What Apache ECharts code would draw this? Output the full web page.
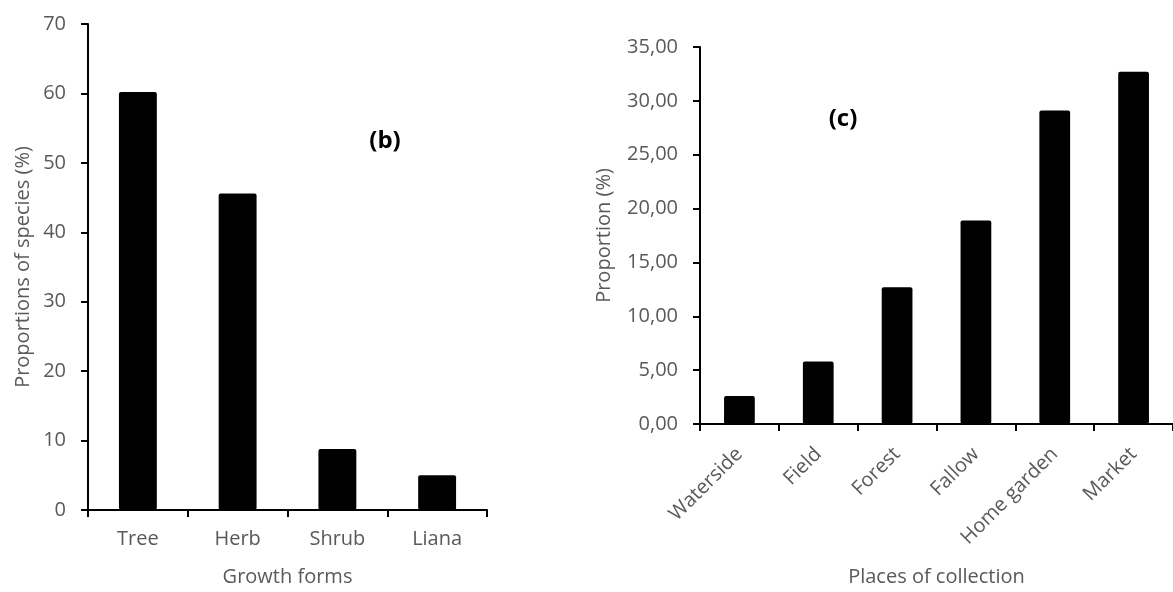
<!DOCTYPE html>
<html><head><meta charset="utf-8">
<script src="https://cdn.jsdelivr.net/npm/echarts@6/dist/echarts.min.js"></script>
<style>html,body{margin:0;padding:0;background:#fff}#c{width:1173px;height:592px}</style>
</head><body><div id="c"></div>
<script>
const growthForms = ['Tree', 'Herb', 'Shrub', 'Liana'];
const growthValues = [60.2, 45.6, 8.8, 5.0];
const places = ['Waterside', 'Field', 'Forest', 'Fallow', 'Home garden', 'Market'];
const placeValues = [2.6, 5.8, 12.7, 18.9, 29.1, 32.7];

const FONT = 'Open Sans';
const LABEL = '#595959';
const axisLine = {show: true, lineStyle: {color: '#000', width: 2}};
const axisTick = {show: true, inside: false, length: 7, lineStyle: {color: '#000', width: 2}};

const chart = echarts.init(document.getElementById('c'));
chart.setOption({
  animation: false,
  textStyle: {fontFamily: FONT},
  grid: [
    {left: 88, top: 24, width: 399, height: 490},
    {left: 700, top: 47, width: 475, height: 378}
  ],
  xAxis: [
    {gridIndex: 0, type: 'category', data: growthForms, axisLine, axisTick,
     axisLabel: {color: LABEL, fontSize: 20, margin: 19, fontFamily: FONT},
     name: 'Growth forms', nameLocation: 'middle', nameGap: 57,
     nameTextStyle: {color: LABEL, fontSize: 20, fontFamily: FONT}},
    {gridIndex: 1, type: 'category', data: places, axisLine, axisTick,
     axisLabel: {color: LABEL, fontSize: 20, margin: 27, rotate: 45, fontFamily: FONT},
     name: 'Places of collection', nameLocation: 'middle', nameGap: 143,
     nameTextStyle: {color: LABEL, fontSize: 20, fontFamily: FONT}},
  ],
  yAxis: [
    {gridIndex: 0, type: 'value', min: 0, max: 70, interval: 10, axisLine, axisTick,
     splitLine: {show: false},
     axisLabel: {color: LABEL, fontSize: 20, margin: 22, fontFamily: FONT},
     name: 'Proportions of species (%)', nameLocation: 'middle', nameGap: 55,
     nameTextStyle: {color: LABEL, fontSize: 20, fontFamily: FONT}},
    {gridIndex: 1, type: 'value', min: 0, max: 35, interval: 5, axisLine, axisTick,
     splitLine: {show: false},
     axisLabel: {color: LABEL, fontSize: 20, margin: 22, fontFamily: FONT,
       formatter: v => v.toFixed(2).replace('.', ',')},
     name: 'Proportion (%)', nameLocation: 'middle', nameGap: 86,
     nameTextStyle: {color: LABEL, fontSize: 20, fontFamily: FONT}}
  ],
  series: [
    {type: 'bar', xAxisIndex: 0, yAxisIndex: 0, data: growthValues, barWidth: '38%',
     itemStyle: {color: '#000', borderRadius: 2}},
    {type: 'bar', xAxisIndex: 1, yAxisIndex: 1, data: placeValues, barWidth: '39%',
     itemStyle: {color: '#000', borderRadius: 2}}
  ],
  graphic: [
    {type: 'text', x: 385, y: 141, style: {text: '(b)', font: 'bold 24px "Open Sans"', fill: '#000', align: 'center', verticalAlign: 'middle'}},
    {type: 'text', x: 843, y: 119, style: {text: '(c)', font: 'bold 24px "Open Sans"', fill: '#000', align: 'center', verticalAlign: 'middle'}}
  ]
});
</script></body></html>
